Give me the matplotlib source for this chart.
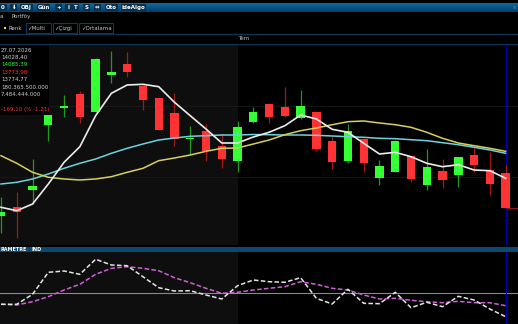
import numpy as np
import matplotlib.pyplot as plt
from matplotlib.patches import Rectangle
from matplotlib.colors import LinearSegmentedColormap

W, H = 518, 324

# candles (price)
opens = [13722.1, 13781.9, 13907.3, 14368.2, 14491.5, 14589.0, 14463.0, 14724.4, 14802.8, 14648.2,
         14558.4, 14453.7, 14266.3, 14323.3, 14220.7, 14113.9, 14387.4, 14517.8, 14498.6, 14418.1,
         14463.0, 14256.4, 14113.9, 14268.5, 13990.6, 14033.4, 14145.2, 13938.6, 14038.4, 14012.0,
         14154.5, 14049.8, 14028.40]
highs = [13857.4, 13888.8, 14126.0, 14446.6, 14584.1, 14612.6, 14842.0, 14893.2, 14886.1, 14653.2,
         14560.5, 14594.0, 14363.2, 14375.3, 14304.1, 14398.8, 14494.3, 14521.4, 14636.8, 14619.7,
         14467.9, 14280.6, 14375.3, 14272.0, 14118.9, 14257.8, 14147.4, 14197.2, 14126.0, 14140.0,
         14204.4, 14178.0, 14085.39]
lows = [13596.7, 13563.2, 13805.4, 14256.4, 14423.1, 14380.3, 14457.3, 14667.4, 14708.0, 14477.2,
        14329.0, 14216.5, 14161.6, 14113.9, 14061.9, 14031.2, 14382.4, 14380.3, 14427.3, 14410.9,
        14185.1, 14054.7, 14095.4, 14035.5, 13942.9, 14029.8, 13964.3, 13907.3, 13917.3, 13928.7,
        14035.5, 13871.7, 13773.98]
closes = [13746.3, 13746.3, 13935.8, 14441.6, 14503.6, 14427.3, 14838.4, 14743.6, 14743.6, 14548.4,
          14334.7, 14268.5, 14277.7, 14185.1, 14126.0, 14356.1, 14458.7, 14427.3, 14434.5, 14501.4,
          14197.2, 14106.8, 14323.3, 14097.5, 14078.3, 14254.2, 13983.5, 14071.1, 13976.4, 14138.1,
          14081.1, 13945.7, 13774.77]

ma_white = [13781.9, 13757.7, 13805.4, 13947.9, 14102.5, 14213.6, 14434.5, 14594.0, 14653.2, 14658.2,
            14641.1, 14529.9, 14434.5, 14339.7, 14240.0, 14240.0, 14282.7, 14316.2, 14363.2, 14439.4,
            14410.9, 14337.6, 14316.2, 14237.8, 14161.6, 14173.7, 14142.4, 14095.4, 14071.1, 14085.4,
            14047.6, 14042.6, 13988.5]
ma_yellow = [14149.5, 14095.4, 14031.2, 13995.6, 13983.5, 13976.4, 13983.5, 13999.9, 14031.2, 14059.7,
             14113.9, 14133.1, 14154.5, 14180.8, 14202.2, 14204.4, 14232.8, 14261.3, 14299.1, 14327.6,
             14346.8, 14370.3, 14391.7, 14396.7, 14382.4, 14370.3, 14351.8, 14316.2, 14273.4, 14240.0,
             14220.7, 14202.2, 14180.8]
ma_cyan = [13947.9, 13960.0, 13983.5, 14019.1, 14059.7, 14095.4, 14126.0, 14166.6, 14202.2, 14232.8,
           14261.3, 14275.6, 14287.7, 14292.0, 14297.0, 14297.0, 14300.5, 14299.1, 14297.0, 14297.0,
           14294.8, 14289.8, 14284.9, 14280.6, 14273.4, 14270.6, 14263.5, 14256.4, 14242.1, 14227.9,
           14209.3, 14190.1, 14166.6]

# lower indicator panel
ind_white = [-11.6, -11.6, -1.6, 20.4, 21.7, 18.4, 33.4, 27.7, 27.0, 16.0, 5.0, 1.7, 2.0, -2.3, -6.3,
             7.0, 12.7, 11.0, 10.4, 15.0, -5.6, -11.3, 3.4, -10.6, -11.0, 0.4, -15.0, -9.6, -14.0,
             -3.6, -7.3, -16.3, -24.0]
ind_magenta = [-11.6, -12.3, -9.0, -4.0, 2.7, 8.4, 18.4, 24.4, 26.0, 24.4, 22.0, 15.0, 10.0, 4.4, -0.6,
               0.4, 2.7, 4.4, 6.0, 11.0, 8.4, 4.4, 2.7, -2.3, -6.3, -5.6, -7.6, -9.0, -10.0, -8.6,
               -10.0, -10.0, -13.0]

grid_levels = [14000, 14500]
info_lines = [("27.07.2026", "#cfcfcf"), ("14028,40", "#cfcfcf"), ("14085,39", "#33ff33"),
              ("13773,98", "#ff3333"), ("13774,77", "#cfcfcf"), ("180.365.500.000", "#cfcfcf"),
              ("7.484.444.000", "#cfcfcf")]
change_text = "-169,10 (% -1,21)"
toolbar = [(0.5, "0"), (11, "⬇"), (21, "OBJ"), (38, "Gün"), (56, "+"), (66, "I"), (73, "T"),
           (84, "S"), (95, "⇔"), (106, "Oto"), (122, "ideAlgo")]
tabs = ["✓Multi", "✓Çizgi", "✓Ortalama"]

n = len(closes)
x = np.arange(n)
step = 15.77
xl = (-1 / step, (W - 1) / step)
split = 15.0  # gray/black background boundary

fig = plt.figure(figsize=(W / 100, H / 100), dpi=100, facecolor="black")

# main price chart
ax = fig.add_axes([0, 1 - 245 / H, 1, 201 / H])
ax.set_facecolor("black")
ax.set_xlim(*xl)
ax.set_ylim(13513.3, 14945.2)
ax.axvspan(xl[0], split, color="#0e0e0e", zorder=0, lw=0)
for lv in grid_levels:
    ax.axhline(lv, color="#1a1a1a", lw=0.6, zorder=1)
o = np.array(opens); c = np.array(closes)
up = c >= o
body_col = np.where(up, "#33ff33", "#ff3333")
wick_col = np.where(up, "#1f9a1f", "#a01818")
ax.vlines(x, lows, highs, colors=wick_col, lw=0.9, zorder=2)
ax.bar(x, np.maximum(np.abs(c - o), 8), bottom=np.minimum(o, c), width=0.53, color=body_col, zorder=3)
ax.plot(x, ma_cyan, color="#6dd3dc", lw=1.1, zorder=4)
ax.plot(x, ma_yellow, color="#d8d05c", lw=1.1, zorder=4)
ax.plot(x, ma_white, color="#ececec", lw=1.2, zorder=5)
ax.hlines(closes[-1], n - 1, xl[1], color="#8b1a1a", lw=0.8, zorder=3)
ax.axvline(n - 1, color="#0000b0", lw=0.8, zorder=1)
ax.set_xticks([]); ax.set_yticks([])
for s in ax.spines.values():
    s.set_visible(False)

# lower indicator panel
ax2 = fig.add_axes([0, 0, 1, (H - 252.3) / H])
ax2.set_facecolor("black")
ax2.set_xlim(*xl)
ax2.set_ylim(-31.3, 40.4)
ax2.axvspan(xl[0], split, color="#0e0e0e", zorder=0, lw=0)
ax2.axhline(0, color="#8a8a8a", lw=0.8, zorder=1)
ax2.axvline(n - 1, color="#0000b0", lw=0.8, zorder=1)
ax2.plot(x, ind_magenta, color="#d060d8", lw=1.1, ls=(0, (3, 1.5)), zorder=3)
ax2.plot(x, ind_white, color="#e4e4e4", lw=1.1, ls=(0, (3, 1.5)), zorder=4)
ax2.set_xticks([]); ax2.set_yticks([])
for s in ax2.spines.values():
    s.set_visible(False)

# window chrome in pixel coords
ov = fig.add_axes([0, 0, 1, 1], zorder=10)
ov.patch.set_alpha(0)
ov.set_axis_off()
grad = np.linspace(0, 1, 20).reshape(-1, 1)
cm = LinearSegmentedColormap.from_list("bar", ["#0c6aa2", "#053e66"])
ov.imshow(grad, extent=(0, W, 11.7, 2.7), cmap=cm, aspect="auto", zorder=1)
fs = 4
for bx, lab in toolbar:
    wdt = 4 + 3.0 * len(lab)
    ov.add_patch(Rectangle((bx - 1, 3.6), wdt, 7, color="#06314f", zorder=2, lw=0))
    ov.text(bx + wdt / 2 - 1, 7.3, lab, color="white", fontsize=fs, ha="center", va="center",
            fontweight="bold", zorder=3)
ov.text(516, 7.2, "x", color="#6a8aa0", fontsize=4, ha="right", va="center", zorder=3)
ov.text(0, 16.8, "a", color="#c8c8c8", fontsize=fs, va="center")
ov.text(11, 16.8, "Portföy", color="#c8c8c8", fontsize=fs, va="center")
ov.add_patch(Rectangle((3.5, 26.8), 2.4, 2.4, color="#ffe400", lw=0))
ov.text(8.5, 28.2, "Renk", color="#c8c8c8", fontsize=fs, va="center")
tx = 26
for lab in tabs:
    wdt = 6 + 3.1 * len(lab)
    ov.add_patch(Rectangle((tx, 23.3), wdt, 10, fill=False, ec="#0d3a5a", lw=0.8))
    ov.text(tx + 1.5, 28.2, lab, color="#c8c8c8", fontsize=fs, va="center")
    tx += wdt + 2
for yy in (34, 44):
    ov.plot([0, W], [yy, yy], color="#0b3555", lw=0.8)
ov.text(238, 39, "Tem", color="#bcbcbc", fontsize=fs, va="center")

# info box
ov.add_patch(Rectangle((0, 44.5), 49, 70.5, color="black", lw=0, zorder=2))
ys = [50, 57.3, 64.7, 72.3, 79.7, 87.3, 94.7]
for yy, (t, col) in zip(ys, info_lines):
    ov.text(1, yy, t, color=col, fontsize=fs, va="center", zorder=3)
ov.text(1, 109, change_text, color="#ff3333", fontsize=fs, va="center", zorder=3)

# lower panel header
ov.add_patch(Rectangle((0, 246.7), W, 5.6, color="#0a4a70", lw=0))
ov.text(0.5, 249.6, "RAMETRE", color="white", fontsize=3.5, fontweight="bold", va="center")
ov.text(31, 249.6, "IND", color="white", fontsize=3.5, fontweight="bold", va="center")
ov.plot([0, W], [323.5, 323.5], color="#0a4a60", lw=0.8)

ov.set_xlim(0, W)
ov.set_ylim(H, 0)

fig.savefig("out.png", dpi=100, facecolor="black")
